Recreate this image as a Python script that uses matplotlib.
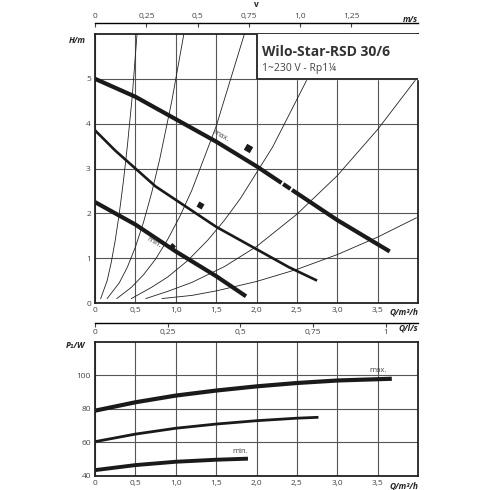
import matplotlib
matplotlib.use("Agg")
import matplotlib.pyplot as plt

plt.rcParams['font.family'] = ['Open Sans', 'DejaVu Sans']
TC = '#444444'

# Pump curves H(Q)
q_max = [0, 0.5, 1.0, 1.5, 2.0, 2.5, 3.0, 3.65]
h_max = [5.0, 4.6, 4.1, 3.6, 3.05, 2.45, 1.85, 1.15]
q_mid = [0, 0.25, 0.5, 0.75, 1.0, 1.5, 2.0, 2.4, 2.75]
h_mid = [3.85, 3.4, 3.0, 2.6, 2.3, 1.7, 1.2, 0.8, 0.5]
q_min = [0, 0.5, 1.0, 1.5, 1.87]
h_min = [2.25, 1.75, 1.15, 0.6, 0.15]

# System curves
sys_q = [
    [0.07, 0.15, 0.2, 0.25, 0.3, 0.35, 0.4, 0.46, 0.52],
    [0.15, 0.3, 0.4, 0.5, 0.6, 0.7, 0.8, 0.95, 1.1],
    [0.27, 0.45, 0.6, 0.75, 0.9, 1.05, 1.2, 1.5, 1.85],
    [0.45, 0.7, 0.9, 1.15, 1.4, 1.6, 1.8, 2.2, 2.63],
    [0.63, 0.9, 1.2, 1.6, 2.0, 2.5, 3.0, 3.5, 3.98],
    [0.83, 1.2, 1.5, 2.0, 2.5, 3.0, 3.5, 3.98],
]
sys_h = [
    [0.1, 0.5, 0.9, 1.4, 2.0, 2.7, 3.5, 4.6, 6.0],
    [0.1, 0.45, 0.8, 1.25, 1.8, 2.45, 3.2, 4.5, 6.0],
    [0.1, 0.35, 0.63, 0.98, 1.42, 1.93, 2.52, 3.94, 6.0],
    [0.1, 0.35, 0.58, 0.95, 1.41, 1.84, 2.33, 3.48, 5.0],
    [0.1, 0.26, 0.46, 0.81, 1.26, 1.98, 2.84, 3.87, 5.0],
    [0.1, 0.17, 0.27, 0.48, 0.75, 1.08, 1.47, 1.9],
]

# Power curves
p_max = [79, 84, 88, 91, 93.5, 95.5, 97, 98]
p_mid = [60.5, 65, 68.5, 71, 73, 74.5, 75]
q_pmid = [0, 0.5, 1.0, 1.5, 2.0, 2.5, 2.75]
p_min = [43.5, 46.5, 48.5, 49.7, 50.3]

q_ticks = [0, 0.5, 1.0, 1.5, 2.0, 2.5, 3.0, 3.5]
q_labels = ['0', '0,5', '1,0', '1,5', '2,0', '2,5', '3,0', '3,5']
v_ticks = [0, 0.25, 0.5, 0.75, 1.0, 1.25]
v_labels = ['0', '0,25', '0,5', '0,75', '1,0', '1,25']
ls_ticks = [0, 0.25, 0.5, 0.75, 1.0]
ls_labels = ['0', '0,25', '0,5', '0,75', '1']

fig = plt.figure(figsize=(4.9, 4.9), dpi=100)
ax = fig.add_axes([0.194, 0.3816, 0.659, 0.549])
ax2 = fig.add_axes([0.194, 0.0286, 0.659, 0.2735])

def style(a):
    for s in a.spines.values():
        s.set_linewidth(1.3)
        s.set_color('#222222')
    a.grid(True, color='#555555', lw=0.8)
    a.set_axisbelow(True)
    a.tick_params(length=0, labelsize=6, colors=TC, pad=3)

style(ax)
ax.set_xlim(0, 4.0)
ax.set_ylim(0, 6)
ax.set_xticks(q_ticks, q_labels)
ax.set_yticks([0, 1, 2, 3, 4, 5])
ax.text(4.0, -0.1, 'Q/m³/h', ha='right', va='top', fontsize=6, style='italic', color='#222', fontweight='bold')
ax.text(-0.12, 5.85, 'H/m', ha='right', va='center', fontsize=6, style='italic', color='#222', fontweight='bold')

for qs, hs in zip(sys_q, sys_h):
    ax.plot(qs, hs, color='#222', lw=0.6)

ax.plot(q_max, h_max, color='#1a1a1a', lw=3.0, solid_capstyle='butt')
ax.plot(q_mid, h_mid, color='#1a1a1a', lw=1.9, solid_capstyle='butt')
ax.plot(q_min, h_min, color='#1a1a1a', lw=3.0, solid_capstyle='butt')
# small gaps in max curve
ax.plot([2.31, 2.33], [2.678, 2.654], color='white', lw=3.8, solid_capstyle='butt')
ax.plot([2.42, 2.44], [2.546, 2.522], color='white', lw=3.8, solid_capstyle='butt')

ax.text(1.55, 3.72, 'max.', rotation=-30, fontsize=5.5, color=TC, ha='center', va='center')
ax.text(0.73, 1.35, 'min.', rotation=-30, fontsize=5.5, color=TC, ha='center', va='center')
ax.plot([1.9], [3.45], marker=(4, 0, 15), ms=7, color='#1a1a1a', markeredgewidth=0)
ax.plot([1.3], [2.18], marker=(4, 0, 15), ms=6, color='#1a1a1a', markeredgewidth=0)
ax.plot([0.95], [1.28], marker=(4, 0, 0), ms=5, color='#1a1a1a', markeredgewidth=0)

# Title box
ax.fill_between([2.0, 4.0], 5.0, 6.0, color='white', zorder=3)
ax.plot([2.0, 2.0, 4.0], [6.0, 5.0, 5.0], color='#222', lw=1.3, zorder=4)
ax.text(2.07, 5.6, 'Wilo-Star-RSD 30/6', fontsize=10, fontweight='bold', color='#333', va='center', zorder=5)
ax.text(2.07, 5.23, '1~230 V - Rp1¼', fontsize=7.5, color='#444', va='center', zorder=5)

# velocity axis
sec = ax.secondary_xaxis(1.041, functions=(lambda q: q * 0.3937, lambda v: v / 0.3937))
sec.set_xticks(v_ticks, v_labels)
sec.tick_params(length=3, direction='in', labelsize=6, colors=TC, pad=2)
sec.spines['top'].set_linewidth(1.0)
ax.text(4.0, 6.23, 'm/s', ha='right', va='bottom', fontsize=6, style='italic', color='#222', fontweight='bold')
ax.text(2.0, 6.55, 'v', ha='center', va='bottom', fontsize=6, color='#222', fontweight='bold')

# Power chart
style(ax2)
ax2.set_xlim(0, 4.0)
ax2.set_ylim(40, 120)
ax2.set_yticks([40, 60, 80, 100])
ax2.set_xticks(q_ticks, q_labels)
ax2.plot(q_max, p_max, color='#1a1a1a', lw=3.0)
ax2.plot(q_pmid, p_mid, color='#1a1a1a', lw=2.0)
ax2.plot(q_min, p_min, color='#1a1a1a', lw=2.8)
ax2.text(3.5, 101, 'max.', fontsize=5.5, color=TC, ha='center', va='bottom')
ax2.text(1.8, 52.5, 'min.', fontsize=5.5, color=TC, ha='center', va='bottom')
ax2.text(4.0, 37, 'Q/m³/h', ha='right', va='top', fontsize=6, style='italic', color='#222', fontweight='bold')
ax2.text(-0.12, 118, 'P₁/W', ha='right', va='center', fontsize=6, style='italic', color='#222', fontweight='bold')

# l/s axis as a separate zero-height axes
ax3 = fig.add_axes([0.194, 0.3408, 0.659, 0.0001])
ax3.set_xlim(0, 4.0 / 3.6)
ax3.set_yticks([])
for s in ['top', 'left', 'right']:
    ax3.spines[s].set_visible(False)
ax3.spines['bottom'].set_linewidth(1.0)
ax3.set_xticks(ls_ticks, ls_labels)
ax3.tick_params(axis='x', length=3, direction='out', labelsize=6, colors=TC, pad=1)
ax3.text(4.0 / 3.6, -1.0, 'Q/l/s', transform=ax3.get_xaxis_transform(), ha='right', va='top',
         fontsize=6, style='italic', color='#222', fontweight='bold')

fig.savefig('out.png', dpi=100, facecolor='white')
